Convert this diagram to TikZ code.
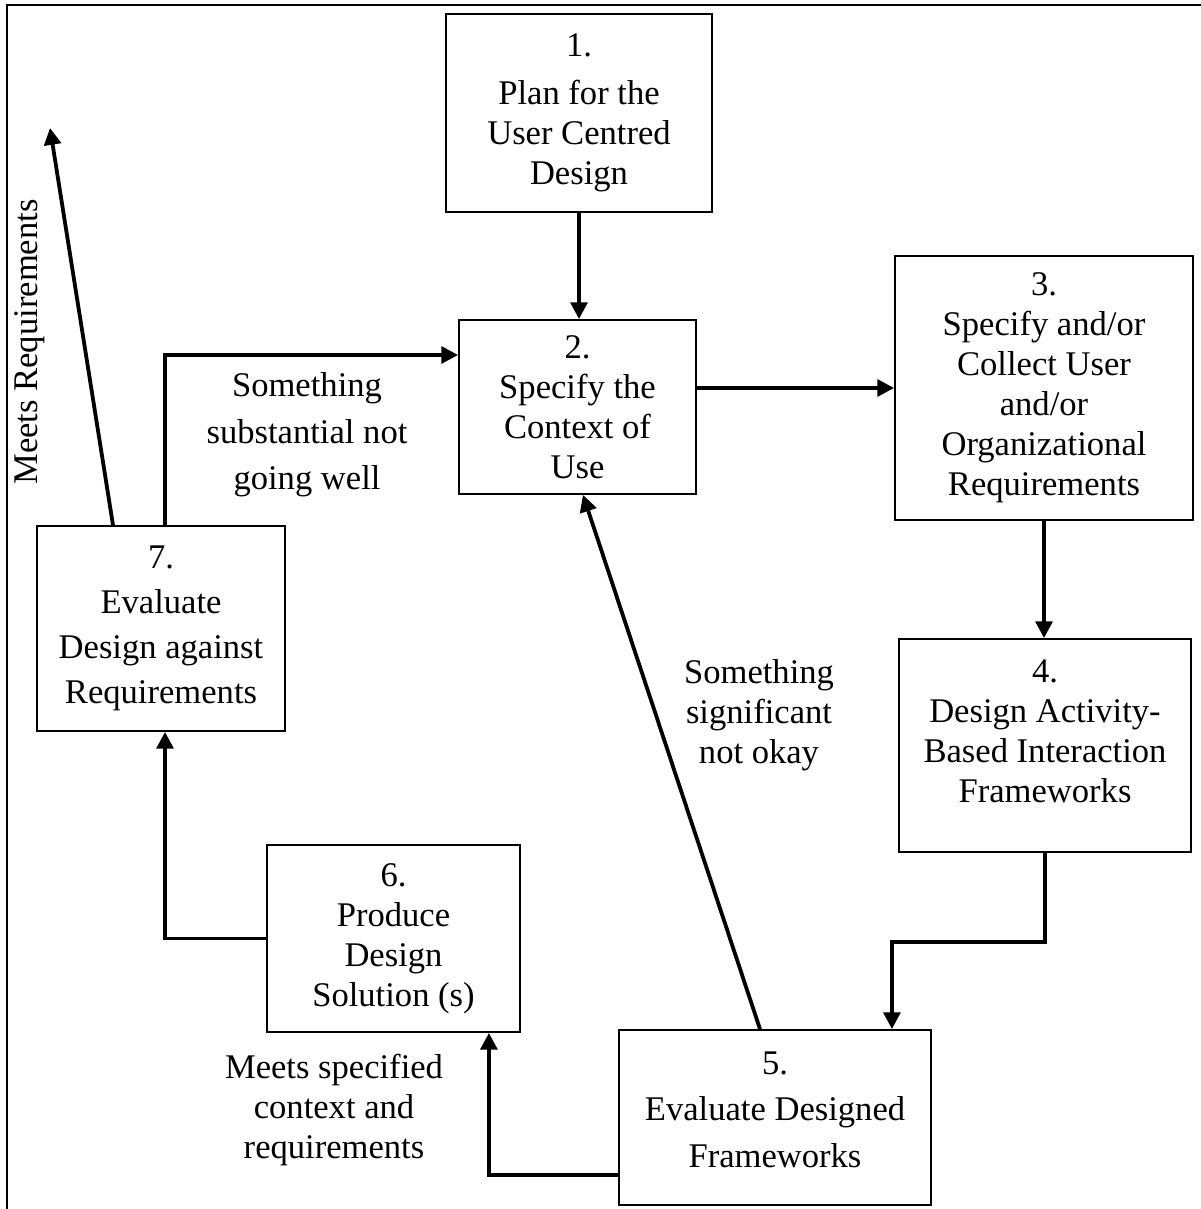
\documentclass[tikz,border=0pt]{standalone}
\usepackage{fontspec}
\setmainfont{Liberation Serif}
\usepackage{tikz}
\usetikzlibrary{arrows.meta}

\begin{document}
\begin{tikzpicture}[
            every node/.style = {font=\fontsize{24.6}{28.5}\selectfont},
            box/.style = {draw=black,
                        line width=1.3pt,
                        rectangle,
                        align=center,
                        inner sep=2pt},
            arrow/.style = {line width=2.7pt,
                        -{Triangle[length=0.42cm,width=0.42cm]}}]
            \useasboundingbox (0,0) rectangle (30.025,-30.225);
            % Frame
            \draw[line width=1.4pt] (0.175,-30.225) -- (0.175,-0.125) -- (30.025,-0.125);
            % Box 1
            \node[box,minimum width=6.65cm,minimum height=4.95cm] (plan) at (14.475,-2.825)
                {1.\\[0.2cm] Plan for the\\ User Centred\\ Design};
            % Box 2
            \node[box,minimum width=5.925cm,minimum height=4.35cm] (context) at (14.4375,-10.175)
                {2.\\ Specify the\\ Context of\\ Use};
            % Box 3
            \node[box,minimum width=7.45cm,minimum height=6.6cm] (req) at (26.1,-9.7)
                {3.\\ Specify and/or\\ Collect User\\ and/or\\ Organizational\\ Requirements};
            % Box 4
            \node[box,minimum width=7.3cm,minimum height=5.325cm] (design) at (26.125,-18.6375)
                {4.\\ Design Activity-\\ Based Interaction\\ Frameworks\rule[-0.7cm]{0pt}{0pt}};
            % Box 5
            \node[box,minimum width=7.8cm,minimum height=4.375cm,
                  font=\fontsize{24.6}{33}\selectfont] (evalfw) at (19.375,-27.9375)
                {5.\\ Evaluate Designed\\ Frameworks\rule[-0.4cm]{0pt}{0pt}};
            % Box 6
            \node[box,minimum width=6.325cm,minimum height=4.675cm] (produce) at (9.8375,-23.4625)
                {6.\\ Produce\\ Design\\ Solution (s)};
            % Box 7
            \node[box,minimum width=6.2cm,minimum height=5.125cm,
                  font=\fontsize{24.6}{32}\selectfont] (evalreq) at (4.025,-15.7125)
                {7.\\ Evaluate\\ Design against\\ Requirements};
            % Free end
            \coordinate (done) at (1.25,-3.2);
            % Connectors
            \draw[arrow] (plan.south) -- (plan.south |- context.north);
            \draw[arrow] (context.east |- req.west) -- (req.west);
            \draw[arrow] (req.south) -- (req.south |- design.north);
            \draw[arrow] (design.south) -- ++(0,-2.225) -| ([xshift=-1cm]evalfw.north east);
            \draw[arrow] ([yshift=-1.4375cm]evalfw.west) -| ([xshift=-0.8cm]produce.south east);
            \draw[arrow] (produce.west) -| ([xshift=0.1cm]evalreq.south);
            \draw[arrow] ([xshift=0.1cm]evalreq.north) |- ([yshift=1.3cm]context.west);
            \draw[arrow] ([xshift=-1.2cm]evalreq.north) -- (done);
            \draw[arrow] ([xshift=-0.375cm]evalfw.north) -- ([xshift=0.1375cm]context.south);
            % Connector labels
            \node[align=center,font=\fontsize{24.6}{33}\selectfont] (substantial) at (7.675,-10.875)
                {Something\\ substantial not\\ going well};
            \node[align=center] (significant) at (18.975,-17.875)
                {Something\\ significant\\ not okay};
            \node[align=center] (specified) at (8.35,-27.75)
                {Meets specified\\ context and\\ requirements};
            \node[rotate=90] (meets) at (0.75,-8.55) {Meets Requirements};
        \end{tikzpicture}
\end{document}
